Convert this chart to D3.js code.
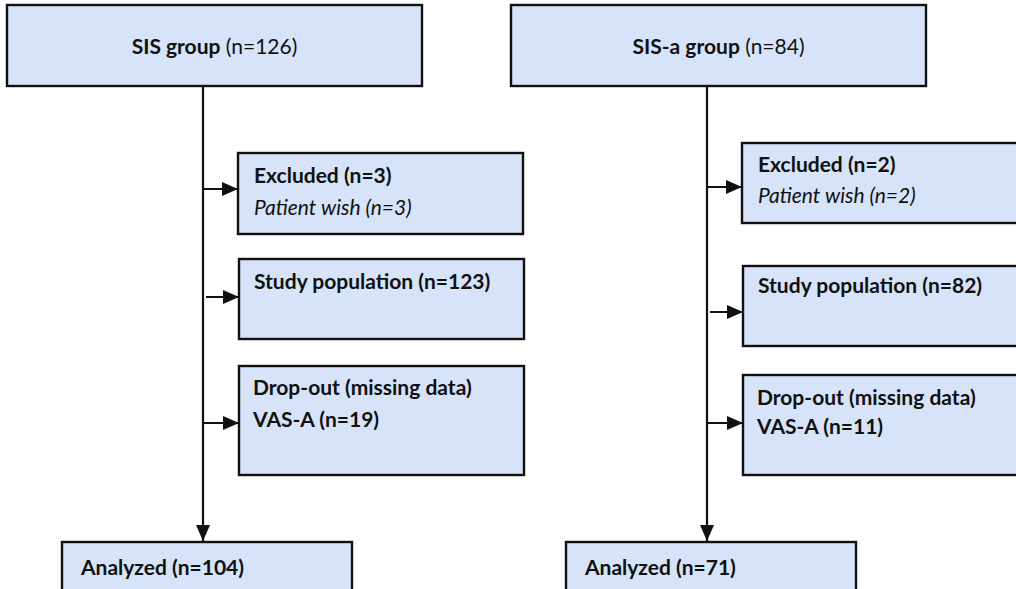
<!DOCTYPE html>
<style>
body { margin: 0; background: #fff; }
svg text { font-family: Lato, 'Open Sans', sans-serif; fill: #111; }
</style>
<svg width="1016" height="589"></svg>
<script src="https://d3js.org/d3.v7.min.js"></script>
<script>
// flow counts, one entry per arm
var groups   = ["SIS group", "SIS-a group"];
var totals   = [126, 84];
var excluded = [3, 2];
var study    = [123, 82];
var dropout  = [19, 11];
var analyzed = [104, 71];

// layout of each column (pixels)
var cols = [
  { dx: 0,   excl: [153, 81, 189, 183, 215], stud: [259, 80, 297, 289], drop: [366, 109, 423, 395, 427] },
  { dx: 504, excl: [143, 80, 187, 172, 203], stud: [266, 80, 312, 293], drop: [375, 100, 423, 405, 434] }
];

var svg = d3.select("svg");
var fill = "#d6e3f8", stroke = "#111";

svg.append("defs").append("marker")
    .attr("id", "head")
    .attr("viewBox", "0 0 16 14")
    .attr("refX", 16).attr("refY", 7)
    .attr("markerUnits", "userSpaceOnUse")
    .attr("markerWidth", 16).attr("markerHeight", 14)
    .attr("orient", "auto")
  .append("path")
    .attr("d", "M0,0L16,7L0,14Z")
    .attr("fill", stroke);

function box(g, x, y, w, h) {
  g.append("rect")
    .attr("x", x).attr("y", y).attr("width", w).attr("height", h)
    .attr("fill", fill).attr("stroke", stroke).attr("stroke-width", 2.4);
}

function arrow(g, x1, y1, x2, y2) {
  g.append("line")
    .attr("x1", x1).attr("y1", y1).attr("x2", x2).attr("y2", y2)
    .attr("stroke", stroke).attr("stroke-width", 2.2)
    .attr("marker-end", "url(#head)");
}

function label(g, x, y, parts, anchor) {
  var t = g.append("text").attr("x", x).attr("y", y)
    .attr("font-size", 21).attr("text-anchor", anchor || "start");
  parts.forEach(function(p) {
    t.append("tspan").text(p[0])
      .attr("font-weight", p[1] ? "bold" : "normal")
      .attr("font-style", p[2] ? "italic" : "normal");
  });
}

groups.forEach(function(name, i) {
  var c = cols[i];
  var g = svg.append("g").attr("transform", "translate(" + c.dx + ",0)");
  var spine = 203, sx = 238, sw = 285;

  // spine down to analyzed
  arrow(g, spine, 86, spine, 541);

  // top box
  box(g, 7, 5, 415, 81);
  label(g, 214.5, 54, [[name, true], [" (n=" + totals[i] + ")", false]], "middle");

  // excluded
  arrow(g, spine, c.excl[2], sx, c.excl[2]);
  box(g, sx, c.excl[0], sw, c.excl[1]);
  label(g, sx + 16, c.excl[3], [["Excluded (n=" + excluded[i] + ")", true]]);
  label(g, sx + 16, c.excl[4], [["Patient wish (n=" + excluded[i] + ")", false, true]]);

  // study population
  arrow(g, spine + 3, c.stud[2], sx + 1, c.stud[2]);
  box(g, sx + 1, c.stud[0], sw, c.stud[1]);
  label(g, sx + 16, c.stud[3], [["Study population (n=" + study[i] + ")", true]]);

  // drop-out
  arrow(g, spine, c.drop[2], sx + 1, c.drop[2]);
  box(g, sx + 1, c.drop[0], sw, c.drop[1]);
  label(g, sx + 15, c.drop[3], [["Drop-out (missing data)", true]]);
  label(g, sx + 15, c.drop[4], [["VAS-A (n=" + dropout[i] + ")", true]]);

  // analyzed
  box(g, 62, 542, 290, 80);
  label(g, 81, 575, [["Analyzed (n=" + analyzed[i] + ")", true]]);
});
</script>
